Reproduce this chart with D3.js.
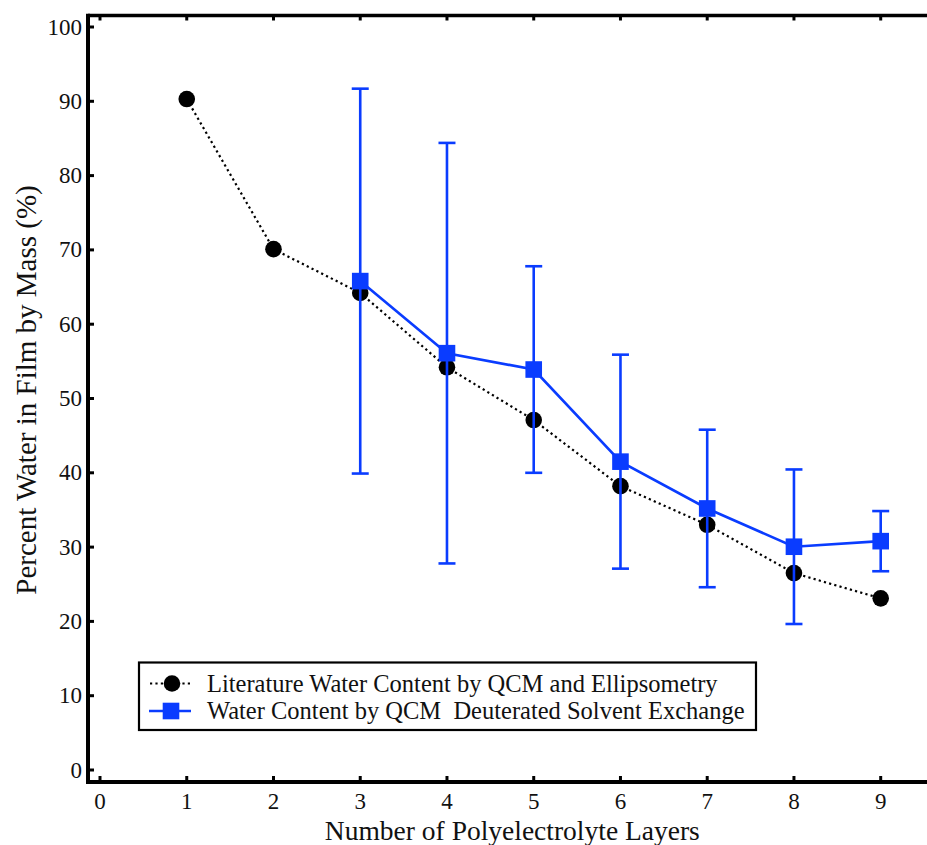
<!DOCTYPE html>
<html><head><meta charset="utf-8">
<script src="https://cdn.jsdelivr.net/npm/d3@7"></script>
<style>html,body{margin:0;padding:0;background:#fff;overflow:hidden}
svg text{font-family:"Liberation Serif","Times New Roman","Nimbus Roman","DejaVu Serif",serif;}</style>
</head><body>
<svg id="c" width="927" height="845"></svg>
<script>
const layers = [1,2,3,4,5,6,7,8,9];
const litWater = [90.3,70.1,64.2,54.2,47.1,38.2,33.0,26.5,23.1];
const qcmLayers = [3,4,5,6,7,8,9];
const qcmWater = [65.8,56.1,53.9,41.5,35.2,30.05,30.8];
const qcmErr = [25.9,28.3,13.9,14.4,10.6,10.4,4.05];
const xTicks = [0,1,2,3,4,5,6,7,8,9];
const yTicks = [0,10,20,30,40,50,60,70,80,90,100];
const seriesNames = ["Literature Water Content by QCM and Ellipsometry","Water Content by QCM  Deuterated Solvent Exchange"];
const xTitle = "Number of Polyelectrolyte Layers";
const yTitle = "Percent Water in Film by Mass (%)";

const blue = "#0a3cff";
const svg = d3.select("#c");
const x = d3.scaleLinear().domain([0,9]).range([100,880.7]);
const y = d3.scaleLinear().domain([0,100]).range([770,27]);
const L = 88, T = 15.5, B = 782, R = 940;

// frame
svg.append("line").attr("x1",L).attr("x2",R).attr("y1",B).attr("y2",B).attr("stroke","#000").attr("stroke-width",4);
svg.append("line").attr("x1",L).attr("x2",R).attr("y1",T).attr("y2",T).attr("stroke","#000").attr("stroke-width",3.5);
svg.append("line").attr("x1",L).attr("x2",L).attr("y1",T-1.75).attr("y2",B+2).attr("stroke","#000").attr("stroke-width",4);

// ticks (inward)
const g = svg.append("g");
xTicks.forEach(t=>{
  g.append("line").attr("x1",x(t)).attr("x2",x(t)).attr("y1",B).attr("y2",B-6).attr("stroke","#000").attr("stroke-width",3);
  g.append("line").attr("x1",x(t)).attr("x2",x(t)).attr("y1",T).attr("y2",T+5).attr("stroke","#000").attr("stroke-width",3);
  g.append("text").attr("x",x(t)).attr("y",809).attr("text-anchor","middle")
   .attr("font-size",23).attr("fill","#111").text(t);
});
yTicks.forEach(t=>{
  g.append("line").attr("x1",L).attr("x2",L+6).attr("y1",y(t)).attr("y2",y(t)).attr("stroke","#000").attr("stroke-width",3);
  g.append("text").attr("x",82).attr("y",y(t)+7.5).attr("text-anchor","end")
   .attr("font-size",23).attr("fill","#111").text(t);
});

// titles
svg.append("text").attr("x",x(4.5)+22).attr("y",840).attr("text-anchor","middle")
  .attr("font-size",27.5).attr("fill","#111").text(xTitle);
svg.append("text").attr("transform","translate(36,390) rotate(-90)").attr("text-anchor","middle")
  .attr("font-size",29).attr("fill","#111").text(yTitle);

// literature series
const lit = layers.map((d,i)=>({x:d,y:litWater[i]}));
svg.append("path").datum(lit).attr("fill","none").attr("stroke","#000").attr("stroke-width",2.2)
  .attr("stroke-dasharray","2.2,3.2")
  .attr("d",d3.line().x(d=>x(d.x)).y(d=>y(d.y)));
svg.selectAll(".lit").data(lit).enter().append("circle")
  .attr("cx",d=>x(d.x)).attr("cy",d=>y(d.y)).attr("r",8.3).attr("fill","#000");

// QCM series
const q = qcmLayers.map((d,i)=>({x:d,y:qcmWater[i],e:qcmErr[i]}));
const eb = svg.append("g").attr("stroke",blue).attr("stroke-width",2.6);
q.forEach(d=>{
  eb.append("line").attr("x1",x(d.x)).attr("x2",x(d.x)).attr("y1",y(d.y+d.e)).attr("y2",y(d.y-d.e));
  eb.append("line").attr("x1",x(d.x)-8.5).attr("x2",x(d.x)+8.5).attr("y1",y(d.y+d.e)).attr("y2",y(d.y+d.e));
  eb.append("line").attr("x1",x(d.x)-8.5).attr("x2",x(d.x)+8.5).attr("y1",y(d.y-d.e)).attr("y2",y(d.y-d.e));
});
svg.append("path").datum(q).attr("fill","none").attr("stroke",blue).attr("stroke-width",2.6)
  .attr("d",d3.line().x(d=>x(d.x)).y(d=>y(d.y)));
svg.selectAll(".q").data(q).enter().append("rect")
  .attr("x",d=>x(d.x)-8.3).attr("y",d=>y(d.y)-8.3).attr("width",16.6).attr("height",16.6).attr("fill",blue);

// legend
const lg = svg.append("g");
lg.append("rect").attr("x",139).attr("y",662.5).attr("width",617).attr("height",67.5)
  .attr("fill","#fff").attr("stroke","#000").attr("stroke-width",2.2);
const rows = [683.5,711];
lg.append("line").attr("x1",150).attr("x2",192).attr("y1",rows[0]).attr("y2",rows[0])
  .attr("stroke","#000").attr("stroke-width",2.2).attr("stroke-dasharray","2.2,3.2");
lg.append("circle").attr("cx",172).attr("cy",rows[0]).attr("r",8.3).attr("fill","#000");
lg.append("line").attr("x1",149).attr("x2",191).attr("y1",rows[1]).attr("y2",rows[1])
  .attr("stroke",blue).attr("stroke-width",2.6);
lg.append("rect").attr("x",171-8.3).attr("y",rows[1]-8.3).attr("width",16.6).attr("height",16.6).attr("fill",blue);
seriesNames.forEach((s,i)=>{
  lg.append("text").attr("x",207).attr("y",rows[i]+8).attr("font-size",24.5)
    .attr("fill","#111").style("white-space","pre").text(s);
});
</script>
</body></html>
